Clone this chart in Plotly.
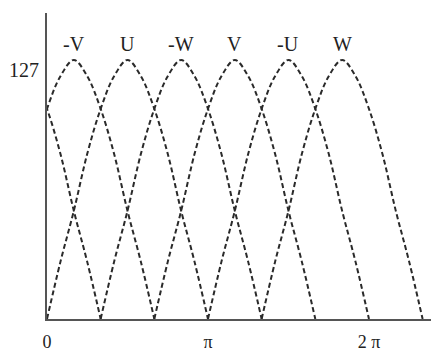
import numpy as np
import plotly.graph_objects as go

# phase labels in order of their peaks
phases = ["-V", "U", "-W", "V", "-U", "W"]
# start of each positive half-wave, in steps of pi/3
wave_starts = [[-1], [0], [1], [2], [3], [-2, 4]]
# height of one half-wave read every pi/12 (peak 127)
half_wave = [0, 28, 53, 81, 103, 119, 127, 119, 103, 81, 53, 28, 0]

y_ticks = [127]
x_ticks = [0, np.pi, 2 * np.pi]
x_tick_text = ["0", "π", "2 π"]

step = np.pi / 12

fig = go.Figure()
for name, starts in zip(phases, wave_starts):
    xs, ys = [], []
    for s in starts:
        x0 = s * np.pi / 3
        xs += [x0 + k * step for k in range(len(half_wave))] + [None]
        ys += half_wave + [None]
    fig.add_trace(go.Scatter(
        x=xs, y=ys,
        mode='lines',
        line=dict(color='#2a2a2a', width=2, dash='5px,3px', shape='spline'),
        name=name,
        connectgaps=False,
        hoverinfo='skip'))
    # label above the main peak
    peak_x = (starts[-1] + 1.5) * np.pi / 3
    fig.add_annotation(x=peak_x, y=135, text=name, showarrow=False,
                       font=dict(family='Liberation Serif', size=20, color='#222'))

# page body has an 8px margin, so the figure is a bit smaller than the window
fig.update_layout(
    width=431, height=344,
    margin=dict(l=39, r=0, t=5, b=30),
    plot_bgcolor='white', paper_bgcolor='white',
    showlegend=False,
    font=dict(family='Liberation Serif', size=19, color='#222'))

fig.update_xaxes(range=[0, 2.435 * np.pi], showline=True, linecolor='#555',
                 linewidth=2, showgrid=False, zeroline=False,
                 tickvals=x_ticks, ticktext=x_tick_text, ticks='',
                 tickfont=dict(size=18), ticklabelstandoff=5)
fig.update_yaxes(range=[0, 150], showline=True, linecolor='#555',
                 linewidth=2, showgrid=False, zeroline=False,
                 tickvals=y_ticks, ticktext=[str(v) for v in y_ticks], ticks='',
                 tickfont=dict(size=20),
                 ticklabelshift=10, ticklabelstandoff=2)

fig.write_html("out.html")
